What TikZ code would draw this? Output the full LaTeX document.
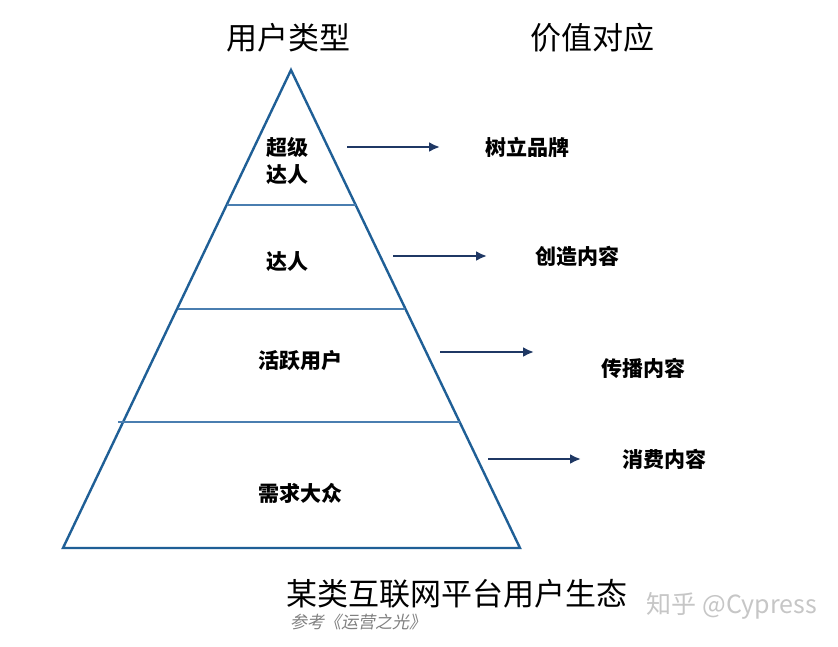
\documentclass[tikz,border=0pt]{standalone}
\usepackage{fontspec}
\setmainfont{Noto Sans CJK SC}
\newfontfamily\slantcjk[FakeSlant=0.2]{Noto Sans CJK SC}
\usetikzlibrary{arrows.meta}
\definecolor{triC}{HTML}{1F5F96}
\definecolor{bandC}{HTML}{4A7EB0}
\definecolor{arrC}{HTML}{1F3864}
\begin{document}
\begin{tikzpicture}[x=1pt,y=-1pt,
  tri/.style={draw=triC,line width=2.4pt,line join=miter},
  band/.style={draw=bandC,line width=2.2pt},
  arr/.style={draw=arrC,line width=2.2pt,-{Latex[length=11pt,width=10pt]}},
  lbl/.style={font=\fontsize{21}{27}\selectfont\bfseries,align=center},
  head/.style={font=\fontsize{31}{34}\selectfont}]
\useasboundingbox (0,0) rectangle (838,646);
\fill[white] (0,0) rectangle (838,646);
\coordinate (A) at (291,70); \coordinate (L) at (63,548); \coordinate (R) at (520,548);
\draw[tri] (A) -- (L) -- (R) -- cycle;
\coordinate (l1) at (227,205); \coordinate (r1) at (356,205);
\coordinate (l2) at (178,309); \coordinate (r2) at (405,309);
\coordinate (l3) at (118,422); \coordinate (r3) at (460,422);
\draw[band] (l1) -- (r1); \draw[band] (l2) -- (r2); \draw[band] (l3) -- (r3);
\node[head] (h1) at (288,38) {用户类型};
\node[head] (h2) at (592,38) {价值对应};
\node[lbl] (u1) at (287,161) {超级\\达人};
\node[lbl] (u2) at (287,262) {达人};
\node[lbl] (u3) at (300,361) {活跃用户};
\node[lbl] (u4) at (300,493) {需求大众};
\node[lbl] (v1) at (527,147) {树立品牌};
\node[lbl] (v2) at (577,256) {创造内容};
\node[lbl] (v3) at (643,368) {传播内容};
\node[lbl] (v4) at (664,459) {消费内容};
\coordinate (a1s) at (347,147); \coordinate (a1e) at (440,147);
\coordinate (a2s) at (393,256); \coordinate (a2e) at (487,256);
\coordinate (a3s) at (440,352); \coordinate (a3e) at (534,352);
\coordinate (a4s) at (488,459); \coordinate (a4e) at (581,459);
\draw[arr] (a1s) -- (a1e); \draw[arr] (a2s) -- (a2e);
\draw[arr] (a3s) -- (a3e); \draw[arr] (a4s) -- (a4e);
\node[head] (t) at (457,594) {某类互联网平台用户生态};
\node[font=\fontsize{17}{20}\selectfont\slantcjk,text=gray] (s) at (358,622) {参考《运营之光》};
\node[font=\fontsize{25}{28}\selectfont,text=gray!45] (w) at (732,606) {知乎 @Cypress};
\end{tikzpicture}
\end{document}
